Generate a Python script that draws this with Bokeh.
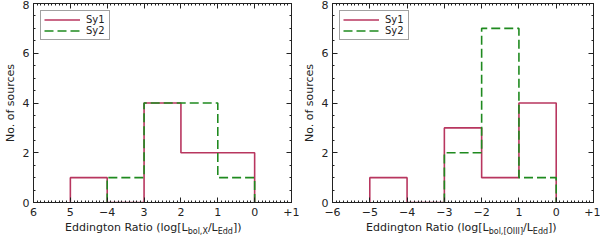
import numpy as np
from bokeh.plotting import figure
from bokeh.layouts import row, column
from bokeh.models import FixedTicker, LinearAxis, Legend, LegendItem, Range1d, Div
from bokeh.embed import file_html
from bokeh.resources import INLINE

# ---------------- data ----------------
x_ticks = [-6, -5, -4, -3, -2, -1, 0, 1]
left_tick_labels = ["6", "5", "\u22124", "3", "2", "1", "0", "+1"]
right_tick_labels = ["\u22126", "\u22125", "\u22124", "\u22123", "\u22122", "1", "0", "+1"]
y_ticks = [0, 2, 4, 6, 8]

left_sy1_edges = [-5, -4, -3, -2, -1, 0]
left_sy1_counts = [1, 0, 4, 2, 2]
left_sy2_edges = [-4, -3, -2, -1, 0]
left_sy2_counts = [1, 4, 4, 1]

right_sy1_edges = [-5, -4, -3, -2, -1, 0]
right_sy1_counts = [1, 0, 3, 1, 4]
right_sy2_edges = [-3, -2, -1, 0]
right_sy2_counts = [2, 7, 1]

left_xlabel = [("Eddington Ratio (log[L", False), ("bol,X", True), ("/L", False), ("Edd", True), ("])", False)]
right_xlabel = [("Eddington Ratio (log[L", False), ("bol,[OIII]", True), ("/L", False), ("Edd", True), ("])", False)]
ylabel = "No. of sources"

SY1_COLOR = "#b8365f"
SY2_COLOR = "#1f8a1f"
FONT = "DejaVu Sans"
TXT = "#222222"


def outline(edges, counts):
    xs, ys = [edges[0]], [0]
    for i, c in enumerate(counts):
        xs += [edges[i], edges[i + 1]]
        ys += [c, c]
    xs.append(edges[-1])
    ys.append(0)
    return xs, ys


def make_panel(tick_labels, sy1, sy2, min_left, min_right, frame_w):
    p = figure(frame_width=frame_w, frame_height=199, output_backend="svg", toolbar_location=None,
               x_range=Range1d(-6, 1), y_range=Range1d(0, 8),
               min_border_left=min_left, min_border_right=min_right,
               min_border_top=3, min_border_bottom=18)
    p.xgrid.visible = False
    p.ygrid.visible = False
    p.outline_line_color = "#222222"
    p.background_fill_color = "white"
    p.border_fill_color = "white"

    xt = FixedTicker(ticks=x_ticks, minor_ticks=list(np.round(np.arange(-6, 1.001, 0.1), 2)))
    yt = FixedTicker(ticks=y_ticks, minor_ticks=list(np.arange(0, 8.01, 0.5)))

    def style(ax):
        ax.major_tick_in = 5
        ax.major_tick_out = 0
        ax.minor_tick_in = 2
        ax.minor_tick_out = 0
        ax.axis_line_color = "#222222"
        ax.major_tick_line_color = "#222222"
        ax.minor_tick_line_color = "#222222"
        ax.major_label_text_font = FONT
        ax.major_label_text_font_size = "11px"
        ax.major_label_text_color = TXT

    xa = p.xaxis[0]
    xa.ticker = xt
    xa.major_label_overrides = {t: l for t, l in zip(x_ticks, tick_labels)}
    xa.major_label_standoff = 5
    style(xa)

    ya = p.yaxis[0]
    ya.ticker = yt
    ya.major_label_standoff = 4
    ya.axis_label = ylabel
    ya.axis_label_text_font = FONT
    ya.axis_label_text_font_size = "11px"
    ya.axis_label_text_font_style = "normal"
    ya.axis_label_text_color = TXT
    ya.axis_label_standoff = 3
    style(ya)

    for loc in ("above", "right"):
        ax = LinearAxis(ticker=xt if loc == "above" else yt)
        style(ax)
        ax.major_label_text_font_size = "0px"
        ax.major_label_text_color = None
        ax.major_label_standoff = 0
        p.add_layout(ax, loc)

    x1, y1 = outline(*sy1)
    r1 = p.line(x1, y1, line_color=SY1_COLOR, line_width=1.6)
    x2, y2 = outline(*sy2)
    r2 = p.line(x2, y2, line_color=SY2_COLOR, line_width=1.6, line_dash="9 4")

    legend = Legend(items=[LegendItem(label="Sy1", renderers=[r1]), LegendItem(label="Sy2", renderers=[r2])],
                    location="top_left", margin=7, padding=3, spacing=0,
                    glyph_width=36, glyph_height=9, label_height=9, label_standoff=6,
                    label_text_font=FONT, label_text_font_size="10px", label_text_color=TXT,
                    border_line_color="#444444", border_line_width=1, background_fill_alpha=1)
    p.add_layout(legend)
    return p


def label_div(parts, width, pad):
    html = ""
    for txt, sub in parts:
        if sub:
            html += f'<span style="font-size:8px;position:relative;top:3px">{txt}</span>'
        else:
            html += txt
    return Div(text=html, width=width, height=20, margin=(0, 0, 0, 0),
               styles={"font-family": FONT, "font-size": "11px", "color": TXT,
                       "white-space": "nowrap", "padding-left": f"{pad}px", "line-height": "15px"})


left = make_panel(left_tick_labels, (left_sy1_edges, left_sy1_counts), (left_sy2_edges, left_sy2_counts),
                  26, 8, 258)
right = make_panel(right_tick_labels, (right_sy1_edges, right_sy1_counts), (right_sy2_edges, right_sy2_counts),
                   32, 7, 261)

layout = column(row(left, right, spacing=0),
                row(label_div(left_xlabel, 292, 65), label_div(right_xlabel, 300, 74), spacing=0),
                spacing=0)
open("out.html", "w").write(file_html(layout, INLINE))
